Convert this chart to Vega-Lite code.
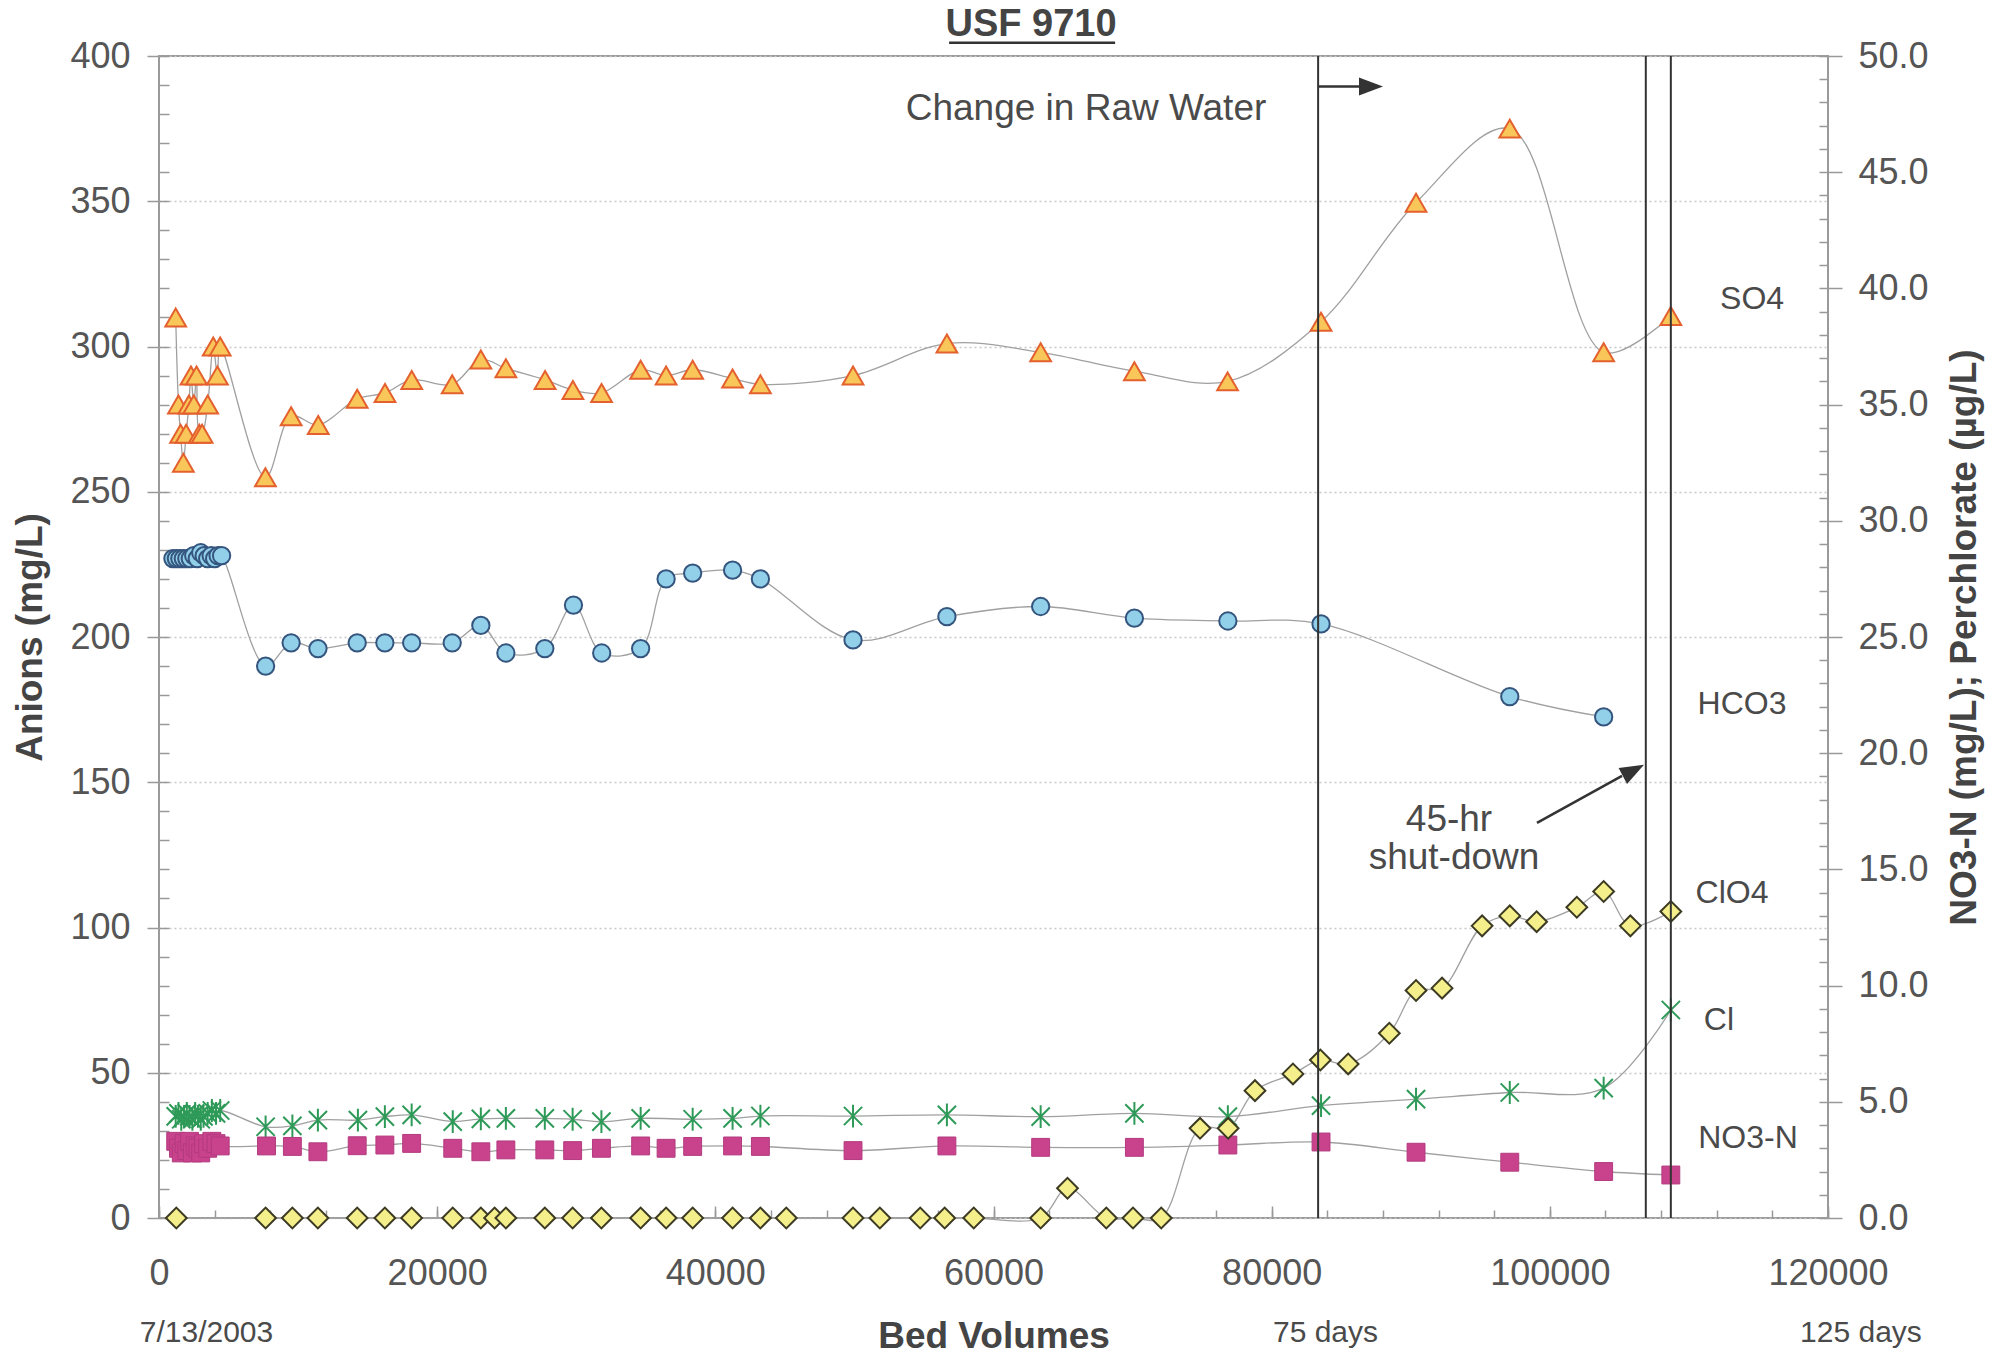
{
  "$schema": "https://vega.github.io/schema/vega-lite/v6.json",
  "width": 1669,
  "height": 1162,
  "autosize": {"type": "none"},
  "padding": {"left": 159, "top": 56, "right": 169, "bottom": 140},
  "background": "white",
  "config": {
    "view": {"stroke": "#9a9a9a", "strokeWidth": 2},
    "font": "Liberation Sans",
    "axis": {"labelFont": "Liberation Sans", "labelFontSize": 36, "labelColor": "#555555", "titleFont": "Liberation Sans", "titleFontSize": 37, "titleFontWeight": "bold", "titleColor": "#444444", "tickColor": "#999999", "tickWidth": 1.5, "domain": false, "grid": false, "labelFlush": false, "labelOverlap": false}
  },
  "datasets": {
    "left": [
      {"series": "SO4", "bv": 1200, "val": 310}, {"series": "SO4", "bv": 1400, "val": 280}, {"series": "SO4", "bv": 1550, "val": 270}, {"series": "SO4", "bv": 1750, "val": 260}, {"series": "SO4", "bv": 1950, "val": 270}, {"series": "SO4", "bv": 2150, "val": 280}, {"series": "SO4", "bv": 2300, "val": 290}, {"series": "SO4", "bv": 2500, "val": 280}, {"series": "SO4", "bv": 2700, "val": 290}, {"series": "SO4", "bv": 2900, "val": 270}, {"series": "SO4", "bv": 3100, "val": 270}, {"series": "SO4", "bv": 3500, "val": 280}, {"series": "SO4", "bv": 3900, "val": 300}, {"series": "SO4", "bv": 4200, "val": 290}, {"series": "SO4", "bv": 4400, "val": 300},
      {"series": "SO4", "bv": 7650, "val": 255}, {"series": "SO4", "bv": 9500, "val": 276}, {"series": "SO4", "bv": 11450, "val": 273}, {"series": "SO4", "bv": 14250, "val": 282}, {"series": "SO4", "bv": 16250, "val": 284}, {"series": "SO4", "bv": 18170, "val": 288.5}, {"series": "SO4", "bv": 21080, "val": 287}, {"series": "SO4", "bv": 23140, "val": 295.5}, {"series": "SO4", "bv": 24940, "val": 292.5}, {"series": "SO4", "bv": 27760, "val": 288.5}, {"series": "SO4", "bv": 29760, "val": 285}, {"series": "SO4", "bv": 31820, "val": 284}, {"series": "SO4", "bv": 34630, "val": 292}, {"series": "SO4", "bv": 36460, "val": 290}, {"series": "SO4", "bv": 38370, "val": 292}, {"series": "SO4", "bv": 41240, "val": 289}, {"series": "SO4", "bv": 43240, "val": 287}, {"series": "SO4", "bv": 49900, "val": 290}, {"series": "SO4", "bv": 56650, "val": 301}, {"series": "SO4", "bv": 63390, "val": 298}, {"series": "SO4", "bv": 70130, "val": 291.5}, {"series": "SO4", "bv": 76830, "val": 288}, {"series": "SO4", "bv": 83550, "val": 308.5}, {"series": "SO4", "bv": 90380, "val": 349.5}, {"series": "SO4", "bv": 97120, "val": 375}, {"series": "SO4", "bv": 103870, "val": 298}, {"series": "SO4", "bv": 108700, "val": 310.5},
      {"series": "HCO3", "bv": 1000, "val": 227}, {"series": "HCO3", "bv": 1250, "val": 227}, {"series": "HCO3", "bv": 1500, "val": 227}, {"series": "HCO3", "bv": 1750, "val": 227}, {"series": "HCO3", "bv": 2000, "val": 227}, {"series": "HCO3", "bv": 2250, "val": 227}, {"series": "HCO3", "bv": 2500, "val": 228}, {"series": "HCO3", "bv": 2750, "val": 227}, {"series": "HCO3", "bv": 3000, "val": 229}, {"series": "HCO3", "bv": 3250, "val": 228}, {"series": "HCO3", "bv": 3500, "val": 227}, {"series": "HCO3", "bv": 3750, "val": 228}, {"series": "HCO3", "bv": 4000, "val": 227}, {"series": "HCO3", "bv": 4250, "val": 228}, {"series": "HCO3", "bv": 4500, "val": 228},
      {"series": "HCO3", "bv": 7665, "val": 190}, {"series": "HCO3", "bv": 9500, "val": 198}, {"series": "HCO3", "bv": 11430, "val": 196}, {"series": "HCO3", "bv": 14250, "val": 198}, {"series": "HCO3", "bv": 16240, "val": 198}, {"series": "HCO3", "bv": 18165, "val": 198}, {"series": "HCO3", "bv": 21080, "val": 198}, {"series": "HCO3", "bv": 23140, "val": 204}, {"series": "HCO3", "bv": 24940, "val": 194.5}, {"series": "HCO3", "bv": 27740, "val": 196}, {"series": "HCO3", "bv": 29800, "val": 211}, {"series": "HCO3", "bv": 31830, "val": 194.5}, {"series": "HCO3", "bv": 34630, "val": 196}, {"series": "HCO3", "bv": 36460, "val": 220}, {"series": "HCO3", "bv": 38370, "val": 222}, {"series": "HCO3", "bv": 41240, "val": 223}, {"series": "HCO3", "bv": 43240, "val": 220}, {"series": "HCO3", "bv": 49900, "val": 199}, {"series": "HCO3", "bv": 56650, "val": 207}, {"series": "HCO3", "bv": 63390, "val": 210.5}, {"series": "HCO3", "bv": 70130, "val": 206.5}, {"series": "HCO3", "bv": 76850, "val": 205.5}, {"series": "HCO3", "bv": 83550, "val": 204.5}, {"series": "HCO3", "bv": 97120, "val": 179.5}, {"series": "HCO3", "bv": 103870, "val": 172.5},
      {"series": "Cl", "bv": 1200, "val": 35}, {"series": "Cl", "bv": 1400, "val": 36}, {"series": "Cl", "bv": 1600, "val": 34}, {"series": "Cl", "bv": 1800, "val": 35}, {"series": "Cl", "bv": 2000, "val": 36}, {"series": "Cl", "bv": 2200, "val": 35}, {"series": "Cl", "bv": 2400, "val": 34}, {"series": "Cl", "bv": 2600, "val": 36}, {"series": "Cl", "bv": 2800, "val": 35}, {"series": "Cl", "bv": 3000, "val": 34}, {"series": "Cl", "bv": 3200, "val": 35}, {"series": "Cl", "bv": 3500, "val": 36}, {"series": "Cl", "bv": 3800, "val": 37}, {"series": "Cl", "bv": 4100, "val": 36}, {"series": "Cl", "bv": 4400, "val": 37},
      {"series": "Cl", "bv": 7665, "val": 31.4}, {"series": "Cl", "bv": 9590, "val": 31.7}, {"series": "Cl", "bv": 11424, "val": 33.7}, {"series": "Cl", "bv": 14300, "val": 33.7}, {"series": "Cl", "bv": 16240, "val": 34.9}, {"series": "Cl", "bv": 18165, "val": 35.5}, {"series": "Cl", "bv": 21120, "val": 33.2}, {"series": "Cl", "bv": 23140, "val": 34.1}, {"series": "Cl", "bv": 24940, "val": 34.3}, {"series": "Cl", "bv": 27740, "val": 34.3}, {"series": "Cl", "bv": 29740, "val": 34}, {"series": "Cl", "bv": 31810, "val": 33.2}, {"series": "Cl", "bv": 34630, "val": 34.3}, {"series": "Cl", "bv": 38370, "val": 34}, {"series": "Cl", "bv": 41240, "val": 34.3}, {"series": "Cl", "bv": 43240, "val": 35.1}, {"series": "Cl", "bv": 49900, "val": 35.1}, {"series": "Cl", "bv": 56650, "val": 35.5}, {"series": "Cl", "bv": 63390, "val": 34.9}, {"series": "Cl", "bv": 70130, "val": 36}, {"series": "Cl", "bv": 76850, "val": 34.9}, {"series": "Cl", "bv": 83550, "val": 38.7}, {"series": "Cl", "bv": 90380, "val": 40.9}, {"series": "Cl", "bv": 97120, "val": 43.2}, {"series": "Cl", "bv": 103870, "val": 44.7}, {"series": "Cl", "bv": 108700, "val": 71.6}
    ],
    "right": [
      {"series": "NO3-N", "bv": 1200, "val": 3.3}, {"series": "NO3-N", "bv": 1400, "val": 3.0}, {"series": "NO3-N", "bv": 1600, "val": 2.8}, {"series": "NO3-N", "bv": 1800, "val": 3.2}, {"series": "NO3-N", "bv": 2000, "val": 2.9}, {"series": "NO3-N", "bv": 2200, "val": 3.3}, {"series": "NO3-N", "bv": 2400, "val": 2.8}, {"series": "NO3-N", "bv": 2600, "val": 3.1}, {"series": "NO3-N", "bv": 2800, "val": 3.0}, {"series": "NO3-N", "bv": 3000, "val": 2.8}, {"series": "NO3-N", "bv": 3200, "val": 3.2}, {"series": "NO3-N", "bv": 3500, "val": 3.0}, {"series": "NO3-N", "bv": 3800, "val": 3.3}, {"series": "NO3-N", "bv": 4100, "val": 3.2}, {"series": "NO3-N", "bv": 4400, "val": 3.1},
      {"series": "NO3-N", "bv": 7730, "val": 3.1}, {"series": "NO3-N", "bv": 9590, "val": 3.08}, {"series": "NO3-N", "bv": 11424, "val": 2.85}, {"series": "NO3-N", "bv": 14250, "val": 3.11}, {"series": "NO3-N", "bv": 16240, "val": 3.14}, {"series": "NO3-N", "bv": 18165, "val": 3.21}, {"series": "NO3-N", "bv": 21120, "val": 3.0}, {"series": "NO3-N", "bv": 23140, "val": 2.85}, {"series": "NO3-N", "bv": 24940, "val": 2.93}, {"series": "NO3-N", "bv": 27740, "val": 2.93}, {"series": "NO3-N", "bv": 29740, "val": 2.9}, {"series": "NO3-N", "bv": 31810, "val": 3.0}, {"series": "NO3-N", "bv": 34630, "val": 3.1}, {"series": "NO3-N", "bv": 36460, "val": 3.0}, {"series": "NO3-N", "bv": 38370, "val": 3.08}, {"series": "NO3-N", "bv": 41240, "val": 3.1}, {"series": "NO3-N", "bv": 43240, "val": 3.08}, {"series": "NO3-N", "bv": 49900, "val": 2.9}, {"series": "NO3-N", "bv": 56650, "val": 3.1}, {"series": "NO3-N", "bv": 63390, "val": 3.04}, {"series": "NO3-N", "bv": 70130, "val": 3.04}, {"series": "NO3-N", "bv": 76850, "val": 3.14}, {"series": "NO3-N", "bv": 83550, "val": 3.27}, {"series": "NO3-N", "bv": 90380, "val": 2.83}, {"series": "NO3-N", "bv": 97120, "val": 2.4}, {"series": "NO3-N", "bv": 103870, "val": 2.0}, {"series": "NO3-N", "bv": 108700, "val": 1.85},
      {"series": "ClO4", "bv": 1245, "val": 0}, {"series": "ClO4", "bv": 7665, "val": 0}, {"series": "ClO4", "bv": 9590, "val": 0}, {"series": "ClO4", "bv": 11424, "val": 0}, {"series": "ClO4", "bv": 14250, "val": 0}, {"series": "ClO4", "bv": 16240, "val": 0}, {"series": "ClO4", "bv": 18165, "val": 0}, {"series": "ClO4", "bv": 21120, "val": 0}, {"series": "ClO4", "bv": 23140, "val": 0}, {"series": "ClO4", "bv": 24130, "val": 0}, {"series": "ClO4", "bv": 24940, "val": 0}, {"series": "ClO4", "bv": 27740, "val": 0}, {"series": "ClO4", "bv": 29740, "val": 0}, {"series": "ClO4", "bv": 31810, "val": 0}, {"series": "ClO4", "bv": 34630, "val": 0}, {"series": "ClO4", "bv": 36460, "val": 0}, {"series": "ClO4", "bv": 38370, "val": 0}, {"series": "ClO4", "bv": 41240, "val": 0}, {"series": "ClO4", "bv": 43240, "val": 0}, {"series": "ClO4", "bv": 45100, "val": 0}, {"series": "ClO4", "bv": 49900, "val": 0}, {"series": "ClO4", "bv": 51830, "val": 0}, {"series": "ClO4", "bv": 54730, "val": 0}, {"series": "ClO4", "bv": 56490, "val": 0}, {"series": "ClO4", "bv": 58580, "val": 0}, {"series": "ClO4", "bv": 63390, "val": 0}, {"series": "ClO4", "bv": 65320, "val": 1.28}, {"series": "ClO4", "bv": 68110, "val": 0}, {"series": "ClO4", "bv": 70030, "val": 0}, {"series": "ClO4", "bv": 72060, "val": 0}, {"series": "ClO4", "bv": 74850, "val": 3.86}, {"series": "ClO4", "bv": 76870, "val": 3.86}, {"series": "ClO4", "bv": 78800, "val": 5.48}, {"series": "ClO4", "bv": 81530, "val": 6.2}, {"series": "ClO4", "bv": 83500, "val": 6.8}, {"series": "ClO4", "bv": 85500, "val": 6.63}, {"series": "ClO4", "bv": 88460, "val": 7.95}, {"series": "ClO4", "bv": 90380, "val": 9.79}, {"series": "ClO4", "bv": 92250, "val": 9.89}, {"series": "ClO4", "bv": 95130, "val": 12.57}, {"series": "ClO4", "bv": 97120, "val": 13.0}, {"series": "ClO4", "bv": 99050, "val": 12.75}, {"series": "ClO4", "bv": 101940, "val": 13.37}, {"series": "ClO4", "bv": 103870, "val": 14.05}, {"series": "ClO4", "bv": 105790, "val": 12.57}, {"series": "ClO4", "bv": 108700, "val": 13.19}
    ]
  },
  "layer": [
    {
      "data": {"name": "left"},
      "layer": [
        {
          "mark": {"type": "line", "interpolate": "catmull-rom", "color": "#a0a0a0", "strokeWidth": 1.3},
          "encoding": {
            "x": {"field": "bv", "type": "quantitative", "scale": {"domain": [0, 120000], "nice": false, "zero": false},
              "axis": {"orient": "bottom", "values": [0, 20000, 40000, 60000, 80000, 100000, 120000], "format": "d", "ticks": false, "labelPadding": 38, "title": "Bed Volumes", "titlePadding": 27}},
            "y": {"field": "val", "type": "quantitative", "scale": {"domain": [0, 400], "nice": false},
              "axis": {"orient": "left", "values": [0, 50, 100, 150, 200, 250, 300, 350, 400], "format": "d", "tickSize": 12, "labelPadding": 17, "grid": true, "gridDash": [2, 3], "gridColor": "#c8c8c8", "gridWidth": 1.5, "title": "Anions (mg/L)", "titlePadding": 20}},
            "detail": {"field": "series"}
          }
        },
        {
          "transform": [{"filter": "datum.series === 'SO4'"}],
          "mark": {"type": "point", "shape": "triangle-up", "filled": true, "fill": "#F9C65A", "stroke": "#E4602E", "strokeWidth": 2, "size": 430, "opacity": 1},
          "encoding": {"x": {"field": "bv", "type": "quantitative"}, "y": {"field": "val", "type": "quantitative"}}
        },
        {
          "transform": [{"filter": "datum.series === 'HCO3'"}],
          "mark": {"type": "point", "shape": "circle", "filled": true, "fill": "#92CFE9", "stroke": "#34557E", "strokeWidth": 2, "size": 300, "opacity": 1},
          "encoding": {"x": {"field": "bv", "type": "quantitative"}, "y": {"field": "val", "type": "quantitative"}}
        },
        {
          "transform": [{"filter": "datum.series === 'Cl'"}],
          "mark": {"type": "point", "shape": "M-0.8,-0.8L0.8,0.8M-0.8,0.8L0.8,-0.8M0,-1L0,1", "filled": false, "stroke": "#2E9A58", "strokeWidth": 2, "size": 520, "opacity": 1},
          "encoding": {"x": {"field": "bv", "type": "quantitative"}, "y": {"field": "val", "type": "quantitative"}}
        }
      ]
    },
    {
      "data": {"name": "right"},
      "layer": [
        {
          "mark": {"type": "line", "interpolate": "catmull-rom", "color": "#a0a0a0", "strokeWidth": 1.3},
          "encoding": {
            "x": {"field": "bv", "type": "quantitative", "scale": {"domain": [0, 120000], "nice": false, "zero": false}, "axis": null},
            "y": {"field": "val", "type": "quantitative", "scale": {"domain": [0, 50], "nice": false},
              "axis": {"orient": "right", "values": [0, 5, 10, 15, 20, 25, 30, 35, 40, 45, 50], "format": ".1f", "tickSize": 14, "labelPadding": 16, "title": "NO3-N (mg/L); Perchlorate (µg/L)", "titleAngle": 270, "titleBaseline": "top", "titlePadding": 18}},
            "detail": {"field": "series"}
          }
        },
        {
          "transform": [{"filter": "datum.series === 'NO3-N'"}],
          "mark": {"type": "point", "shape": "square", "filled": true, "fill": "#C8438C", "stroke": "#B33A7F", "strokeWidth": 1, "size": 320, "opacity": 1},
          "encoding": {"x": {"field": "bv", "type": "quantitative", "axis": null}, "y": {"field": "val", "type": "quantitative"}}
        },
        {
          "transform": [{"filter": "datum.series === 'ClO4'"}],
          "mark": {"type": "point", "shape": "diamond", "filled": true, "fill": "#F4EF8A", "stroke": "#3C3A22", "strokeWidth": 2, "size": 430, "opacity": 1},
          "encoding": {"x": {"field": "bv", "type": "quantitative", "axis": null}, "y": {"field": "val", "type": "quantitative"}}
        }
      ]
    },
    {
      "data": {"values": [{"v": 0}]},
      "mark": {"type": "point", "opacity": 0},
      "encoding": {
        "x": {"field": "v", "type": "quantitative", "scale": {"domain": [0, 120000], "nice": false, "zero": false},
          "axis": {"orient": "bottom", "values": [0, 4000, 8000, 12000, 16000, 20000, 24000, 28000, 32000, 36000, 40000, 44000, 48000, 52000, 56000, 60000, 64000, 68000, 72000, 76000, 80000, 84000, 88000, 92000, 96000, 100000, 104000, 108000, 112000, 116000, 120000], "tickSize": -8, "labels": false, "title": null}},
        "y": {"field": "v", "type": "quantitative", "scale": {"domain": [0, 400], "nice": false},
          "axis": {"orient": "left", "values": [0, 10, 20, 30, 40, 50, 60, 70, 80, 90, 100, 110, 120, 130, 140, 150, 160, 170, 180, 190, 200, 210, 220, 230, 240, 250, 260, 270, 280, 290, 300, 310, 320, 330, 340, 350, 360, 370, 380, 390, 400], "tickSize": -10, "labels": false, "title": null}}
      }
    },
    {
      "data": {"values": [{"v": 0}]},
      "mark": {"type": "point", "opacity": 0},
      "encoding": {
        "x": {"field": "v", "type": "quantitative", "scale": {"domain": [0, 120000], "nice": false, "zero": false},
          "axis": {"orient": "bottom", "values": [0, 20000, 40000, 60000, 80000, 100000, 120000], "tickSize": -12, "labels": false, "title": null}},
        "y": {"field": "v", "type": "quantitative", "scale": {"domain": [0, 50], "nice": false},
          "axis": {"orient": "right", "values": [0, 1, 2, 3, 4, 5, 6, 7, 8, 9, 10, 11, 12, 13, 14, 15, 16, 17, 18, 19, 20, 21, 22, 23, 24, 25, 26, 27, 28, 29, 30, 31, 32, 33, 34, 35, 36, 37, 38, 39, 40, 41, 42, 43, 44, 45, 46, 47, 48, 49, 50], "tickSize": -9, "labels": false, "title": null}}
      }
    },
    {
      "layer": [
        {
          "data": {"values": [{"bv": 83340}, {"bv": 106900}, {"bv": 108700}]},
          "mark": {"type": "rule", "color": "#333333", "strokeWidth": 2},
          "encoding": {"x": {"field": "bv", "type": "quantitative", "scale": {"domain": [0, 120000], "nice": false, "zero": false}, "axis": null}}
        },
        {
          "data": {"values": [
            {"x1": 83340, "x2": 86280, "y1": 389.5, "y2": 389.5},
            {"x1": 99077, "x2": 105190, "y1": 136.0, "y2": 152.2},
            {"x1": 56807, "x2": 68742, "y1": 404.6, "y2": 404.6}
          ]},
          "mark": {"type": "rule", "color": "#333333", "strokeWidth": 2.5},
          "encoding": {
            "x": {"field": "x1", "type": "quantitative", "scale": {"domain": [0, 120000], "nice": false, "zero": false}, "axis": null},
            "x2": {"field": "x2"},
            "y": {"field": "y1", "type": "quantitative", "scale": {"domain": [0, 400], "nice": false}, "axis": null},
            "y2": {"field": "y2"}
          }
        },
        {
          "data": {"values": [{"bv": 87140, "val": 389.5}]},
          "mark": {"type": "point", "shape": "M-1,-0.75L1,0L-1,0.75Z", "filled": true, "fill": "#333333", "strokeWidth": 0, "size": 576, "opacity": 1},
          "encoding": {"x": {"field": "bv", "type": "quantitative", "axis": null}, "y": {"field": "val", "type": "quantitative", "axis": null}}
        },
        {
          "data": {"values": [{"bv": 106010, "val": 154.1}]},
          "mark": {"type": "point", "shape": "M-1,-0.75L1,0L-1,0.75Z", "filled": true, "fill": "#333333", "strokeWidth": 0, "size": 576, "opacity": 1, "angle": 332},
          "encoding": {"x": {"field": "bv", "type": "quantitative", "axis": null}, "y": {"field": "val", "type": "quantitative", "axis": null}}
        },
        {
          "data": {"values": [{"t": "USF 9710", "bv": 62700, "val": 410.5}]},
          "mark": {"type": "text", "font": "Liberation Sans", "fontSize": 38, "fontWeight": "bold", "color": "#444444", "align": "center", "baseline": "middle"},
          "encoding": {"x": {"field": "bv", "type": "quantitative", "axis": null}, "y": {"field": "val", "type": "quantitative", "axis": null}, "text": {"field": "t"}}
        },
        {
          "data": {"values": [
            {"t": "SO4", "bv": 114540, "val": 316.3},
            {"t": "HCO3", "bv": 113820, "val": 176.9},
            {"t": "ClO4", "bv": 113100, "val": 111.9},
            {"t": "Cl", "bv": 112160, "val": 68.2},
            {"t": "NO3-N", "bv": 114250, "val": 27.5}
          ]},
          "mark": {"type": "text", "font": "Liberation Sans", "fontSize": 32, "color": "#4a4a4a", "align": "center", "baseline": "middle"},
          "encoding": {"x": {"field": "bv", "type": "quantitative", "axis": null}, "y": {"field": "val", "type": "quantitative", "axis": null}, "text": {"field": "t"}}
        },
        {
          "data": {"values": [
            {"t": "Change in Raw Water", "bv": 66650, "val": 381.6},
            {"t": "45-hr", "bv": 92750, "val": 137.1},
            {"t": "shut-down", "bv": 93110, "val": 123.8}
          ]},
          "mark": {"type": "text", "font": "Liberation Sans", "fontSize": 37, "color": "#4a4a4a", "align": "center", "baseline": "middle"},
          "encoding": {"x": {"field": "bv", "type": "quantitative", "axis": null}, "y": {"field": "val", "type": "quantitative", "axis": null}, "text": {"field": "t"}}
        },
        {
          "data": {"values": [
            {"t": "7/13/2003", "bv": 3415, "val": -39.5},
            {"t": "75 days", "bv": 83870, "val": -39.5},
            {"t": "125 days", "bv": 122370, "val": -39.5}
          ]},
          "mark": {"type": "text", "font": "Liberation Sans", "fontSize": 30, "color": "#4a4a4a", "align": "center", "baseline": "middle"},
          "encoding": {"x": {"field": "bv", "type": "quantitative", "axis": null}, "y": {"field": "val", "type": "quantitative", "axis": null}, "text": {"field": "t"}}
        }
      ]
    }
  ],
  "resolve": {"scale": {"x": "independent", "y": "independent"}}
}
